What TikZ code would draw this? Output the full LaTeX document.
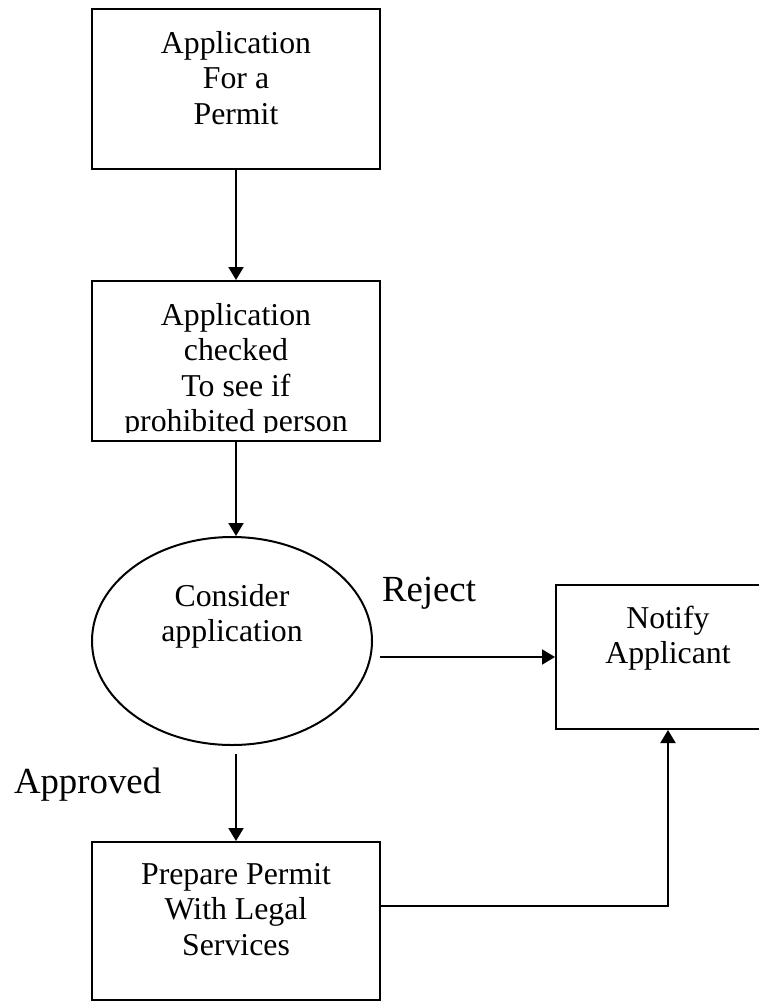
\documentclass[tikz,border=0pt]{standalone}
\usepackage{fontspec}
\setmainfont{Liberation Serif}
\usetikzlibrary{positioning, shapes.geometric, arrows.meta}

\begin{document}
\begin{tikzpicture}[x=1pt, y=-1pt, line width=2pt,
   box/.style={rectangle, draw, inner sep=0pt, minimum width=288pt, minimum height=160pt},
   oval/.style={ellipse, draw, inner sep=0pt, minimum width=280pt, minimum height=208pt},
   txt/.style={inner sep=0pt, align=center, font=\fontsize{31.8}{35.5}\selectfont},
   lbl/.style={inner sep=0pt, font=\fontsize{36.8}{40}\selectfont},
   arr/.style={-{Triangle[length=13pt, width=15pt]}}]
   \useasboundingbox (0,0) rectangle (758,1001);

   \node[box] (apply) at (236,89) {};
   \node[box] (check) at (236,361) {};
   \node[oval] (consider) at (232,641) {};
   \node[box, minimum height=158pt] (prep) at (236,921) {};
   \node[box, minimum width=224pt, minimum height=144pt] (notify) at (668,657) {};

   \node[txt, below=22pt of apply.north] (applyT) {Application\\For a\\Permit};
   \begin{scope}
      \clip (check.north west) rectangle ([yshift=10pt]check.south east);
      \node[txt, below=22pt of check.north] (checkT) {Application\\checked\\To see if\\prohibited person};
   \end{scope}
   \node[txt, below=47pt of consider.north] (considerT) {Consider\\application};
   \node[txt, below=21pt of prep.north] (prepT) {Prepare Permit\\With Legal\\Services};
   \node[txt, below=21pt of notify.north] (notifyT) {Notify\\Applicant};

   \node[lbl, anchor=base west] (reject) at (381,601) {Reject};
   \node[lbl, anchor=base west] (approved) at (13,793) {Approved};

   \draw[arr] (apply) -- (check);
   \draw[arr] (check) -- (check.south |- consider.north);
   \draw[arr] ([xshift=7pt]consider.east |- notify.west) -- (notify.west);
   \draw[arr, shorten <=8pt] (prep.north |- consider.south) -- (prep.north);
   \draw[arr] ([yshift=15pt]prep.east) -| (notify.south);
\end{tikzpicture}
\end{document}
